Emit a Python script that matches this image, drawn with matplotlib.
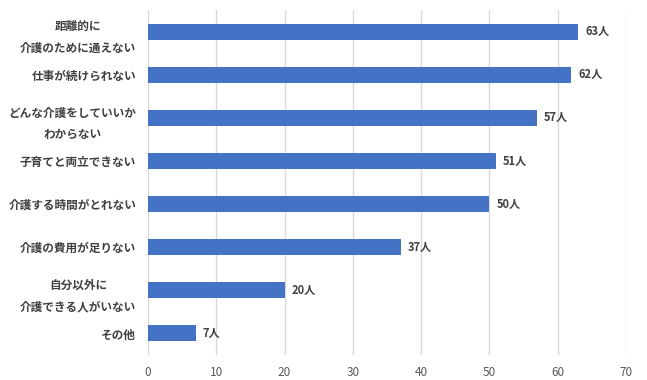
import matplotlib
matplotlib.use("Agg")
import matplotlib.pyplot as plt

plt.rcParams['font.family'] = ['Noto Sans CJK JP', 'DejaVu Sans']

# data (top to bottom as shown)
categories = ["距離的に\n介護のために通えない", "仕事が続けられない", "どんな介護をしていいか\nわからない",
              "子育てと両立できない", "介護する時間がとれない", "介護の費用が足りない",
              "自分以外に\n介護できる人がいない", "その他"]
counts = [63, 62, 57, 51, 50, 37, 20, 7]
xticks = [0, 10, 20, 30, 40, 50, 60, 70]

fig = plt.figure(figsize=(6.47, 3.80), dpi=100)
ax = fig.add_axes([148 / 647, 1 - 355 / 380, 478 / 647, 345 / 380])

ypos = list(range(len(categories)))
ax.barh(ypos, counts, height=0.37, color="#4472C4", zorder=3)
for y, v in zip(ypos, counts):
    ax.annotate(f"{v}人", (v, y), xytext=(5, 0), textcoords="offset points",
                va="center", ha="left", fontsize=8, fontweight="bold", color="#404040")

ax.set_xlim(0, 70)
ax.set_ylim(len(categories) - 0.5, -0.5)
ax.set_xticks(xticks)
ax.set_yticks(ypos)
ax.set_yticklabels(categories, fontsize=8.4, fontweight="bold", color="#404040", linespacing=1.85,
                   ha="right", multialignment="center")
ax.tick_params(axis="x", labelsize=8.5, colors="#595959", length=0, pad=8)
ax.tick_params(axis="y", length=0, pad=8.5)
for s in ax.spines.values():
    s.set_visible(False)
ax.grid(axis="x", color="#D9D9D9", linewidth=1, zorder=0)

fig.savefig("out.png", dpi=100)
